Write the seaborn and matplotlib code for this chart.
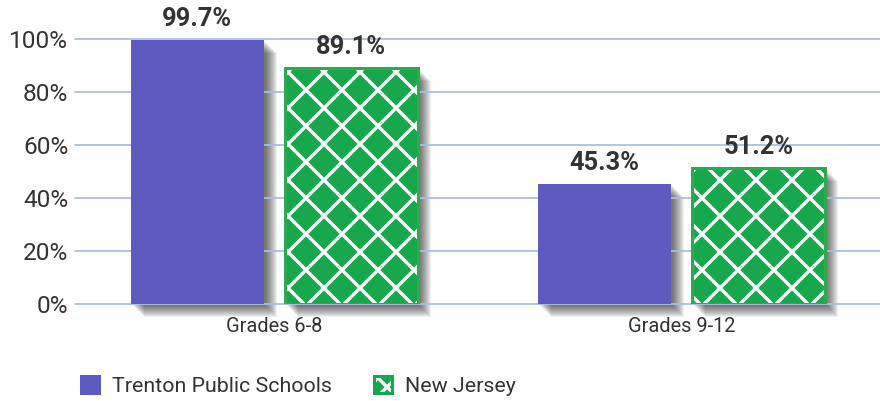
import pandas as pd
import matplotlib.pyplot as plt
import matplotlib.transforms as mtransforms
from matplotlib.patches import Patch, Rectangle
import seaborn as sns

grades = ['Grades 6-8', 'Grades 9-12']
trenton = [99.7, 45.3]
new_jersey = [89.1, 51.2]
series = ['Trenton Public Schools', 'New Jersey']

purple = '#5f5abf'
green = '#17a84e'
text_col = '#333333'

df = pd.DataFrame({
    'grade': grades * 2,
    'value': trenton + new_jersey,
    'district': [series[0]] * 2 + [series[1]] * 2,
})

# hatch spacing is tied to dpi, so pick dpi for the lattice size and scale fonts to match
dpi = 216
k = 160 / dpi

sns.set_style('white')
plt.rcParams['font.family'] = ['Roboto', 'DejaVu Sans']
plt.rcParams['hatch.linewidth'] = 1.1

fig = plt.figure(figsize=(881 / dpi, 401 / dpi), dpi=dpi)
ax = fig.add_axes([0.085, 0.242, 0.915, 0.661])

sns.barplot(data=df, x='grade', y='value', hue='district', palette=[purple, green],
            width=0.756, gap=0.14, saturation=1, legend=False, ax=ax)

# soft drop shadow: stacked translucent copies, shifted right/down
for cont in ax.containers:
    for bar in cont:
        for i in range(2, 14):
            off = mtransforms.ScaledTranslation(i / dpi, -i / dpi, fig.dpi_scale_trans)
            ax.add_patch(Rectangle(bar.get_xy(), bar.get_width(), bar.get_height(),
                                   transform=ax.transData + off, facecolor='k',
                                   alpha=0.06, linewidth=0, zorder=bar.get_zorder() - 0.5,
                                   clip_on=False))

for cont, name in zip(ax.containers, series):
    for bar in cont:
        if name == 'New Jersey':
            bar.set_hatch('xx')
            bar.set_edgecolor('#2fa84f')
            bar.set_linewidth(1.0)
            bar._hatch_color = (1, 1, 1, 1)
        else:
            bar.set_linewidth(0)
    ax.bar_label(cont, fmt='%.1f%%', padding=4 * k, fontsize=11.5 * k, fontweight='bold',
                 color=text_col)

ax.set_ylim(0, 100)
ax.set_xlim(-0.49, 1.49)
ax.set_yticks([0, 20, 40, 60, 80, 100])
ax.set_yticklabels([f'{v}%' for v in [0, 20, 40, 60, 80, 100]])
ax.yaxis.grid(True, color='#a9bde6', linewidth=0.8 * k)
ax.set_axisbelow(True)
ax.grid(axis='x', visible=False)
sns.despine(ax=ax, left=True, bottom=True)
ax.tick_params(axis='y', labelsize=11 * k, labelcolor=text_col, length=0, pad=3 * k)
ax.tick_params(axis='x', labelsize=9 * k, labelcolor=text_col, length=0, pad=6 * k)
ax.set_xlabel('')
ax.set_ylabel('')
for line in ax.get_ygridlines():
    line.set_clip_on(False)

handles = [Patch(facecolor=purple, edgecolor=purple),
           Patch(facecolor=green, edgecolor=green, hatch='xxxx')]
handles[1]._hatch_color = (1, 1, 1, 1)
fig.legend(handles, series, loc='lower left', bbox_to_anchor=(0.07, -0.035), ncol=2,
           frameon=False, fontsize=9.6 * k, handlelength=0.85, handleheight=0.85,
           columnspacing=2.0, handletextpad=0.6, labelcolor=text_col)

fig.savefig('out.png', dpi=dpi)
